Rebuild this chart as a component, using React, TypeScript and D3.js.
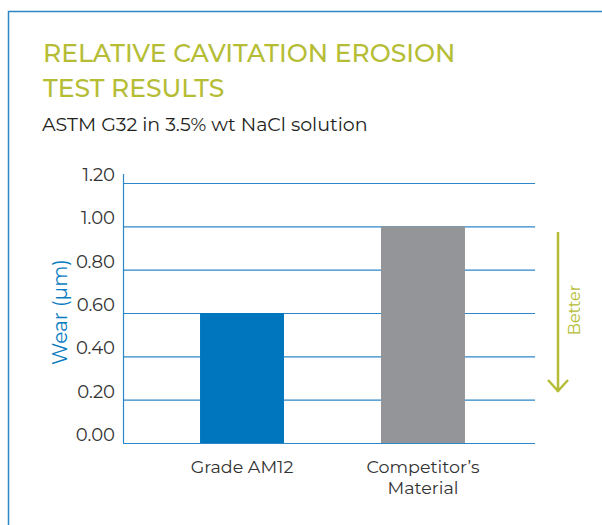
import React, { useEffect, useRef } from 'react';
import * as d3 from 'd3';

const categories = ['Grade AM12', "Competitor’s\nMaterial"];
const wearValues = [0.6, 1.0];
const barColors = ['#0076bf', '#939598'];
const yTicks = [0, 0.2, 0.4, 0.6, 0.8, 1.0, 1.2];

const App = () => {
  const svgRef = useRef<SVGSVGElement>(null);

  useEffect(() => {
    const svg = d3.select(svgRef.current);
    svg.selectAll('*').remove();

    const width = 602;
    const height = 525;
    const font = 'Montserrat, "DejaVu Sans", sans-serif';
    const green = '#b5bd35';
    const blue = '#0a7cc1';

    svg.attr('width', width).attr('height', height)
      .style('position', 'absolute')
      .style('left', '0px')
      .style('top', '0px');

    // frame
    svg.append('path')
      .attr('d', `M8.5,525 L8.5,11.5 L602,11.5`)
      .attr('fill', 'none')
      .attr('stroke', '#2d86c8')
      .attr('stroke-width', 1.5);

    // title
    const title = svg.append('text')
      .attr('fill', green)
      .style('font-family', font)
      .style('font-weight', 500)
      .style('font-size', '25px');
    title.append('tspan').attr('x', 43).attr('y', 62).text('RELATIVE CAVITATION EROSION');
    title.append('tspan').attr('x', 43).attr('y', 97).text('TEST RESULTS');

    svg.append('text')
      .attr('x', 42)
      .attr('y', 131)
      .attr('fill', '#231f20')
      .style('font-family', font)
      .style('font-size', '19px')
      .text('ASTM G32 in 3.5% wt NaCl solution');

    const x = d3.scaleBand<string>()
      .domain(categories)
      .range([130, 535])
      .paddingInner(0.536)
      .paddingOuter(0.387);
    const y = d3.scaleLinear().domain([0, 1.2]).range([443, 183]);

    // gridlines
    svg.append('g')
      .selectAll('line')
      .data(yTicks)
      .enter()
      .append('line')
      .attr('x1', 123)
      .attr('x2', 535)
      .attr('y1', (d) => y(d) + 0.5)
      .attr('y2', (d) => y(d) + 0.5)
      .attr('stroke', '#2d86c8')
      .attr('stroke-width', 1.2);

    // y axis line
    svg.append('line')
      .attr('x1', 123.5)
      .attr('x2', 123.5)
      .attr('y1', 174)
      .attr('y2', 443)
      .attr('stroke', '#2d86c8')
      .attr('stroke-width', 1.2);

    // tick labels
    svg.append('g')
      .selectAll('text')
      .data(yTicks)
      .enter()
      .append('text')
      .attr('x', 115)
      .attr('y', (d) => y(d) - 2)
      .attr('text-anchor', 'end')
      .attr('fill', '#333')
      .style('font-family', font)
      .style('font-size', '18px')
      .text((d) => d.toFixed(2));

    // bars
    svg.append('g')
      .selectAll('rect')
      .data(wearValues)
      .enter()
      .append('rect')
      .attr('x', (d, i) => x(categories[i]))
      .attr('y', (d) => y(d))
      .attr('width', x.bandwidth())
      .attr('height', (d) => y(0) - y(d))
      .attr('fill', (d, i) => barColors[i]);

    // category labels
    const catText = svg.append('g')
      .selectAll('text')
      .data(categories)
      .enter()
      .append('text')
      .attr('text-anchor', 'middle')
      .attr('fill', '#333')
      .style('font-family', font)
      .style('font-size', '17.5px');
    catText.each(function (d) {
      const cx = (x(d) ?? 0) + x.bandwidth() / 2;
      d.split('\n').forEach((line, i) => {
        d3.select(this).append('tspan')
          .attr('x', cx)
          .attr('y', 473 + i * 21)
          .text(line);
      });
    });

    // y axis title
    svg.append('text')
      .attr('transform', 'translate(67,312) rotate(-90)')
      .attr('text-anchor', 'middle')
      .attr('fill', blue)
      .style('font-family', font)
      .style('font-size', '20px')
      .text('Wear (μm)');

    // better arrow
    svg.append('line')
      .attr('x1', 558)
      .attr('x2', 558)
      .attr('y1', 232)
      .attr('y2', 392)
      .attr('stroke', green)
      .attr('stroke-width', 2.5);
    svg.append('path')
      .attr('d', 'M548,380 L558,391 L568,380')
      .attr('fill', 'none')
      .attr('stroke', green)
      .attr('stroke-width', 2.5);
    svg.append('text')
      .attr('transform', 'translate(580,310) rotate(-90)')
      .attr('text-anchor', 'middle')
      .attr('fill', green)
      .style('font-family', font)
      .style('font-size', '16px')
      .text('Better');
  }, []);

  return <svg ref={svgRef} />;
};

export default App;
